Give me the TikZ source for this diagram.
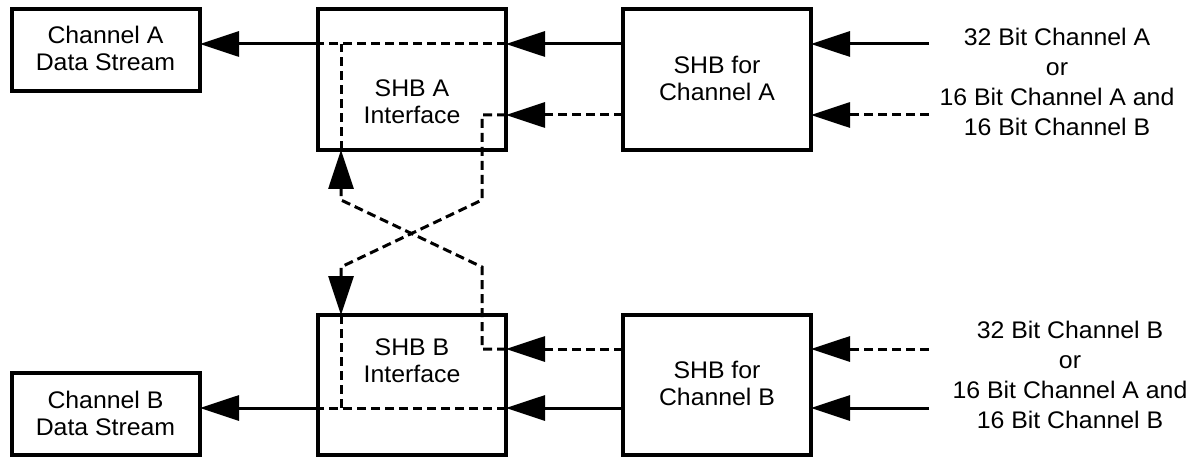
\documentclass[tikz,border=0pt]{standalone}
\usepackage{fontspec}
\setmainfont{Liberation Sans}[FakeStretch=1.035]
\usetikzlibrary{arrows.meta,calc}
\begin{document}
\begin{tikzpicture}[x=1pt,y=-1pt,
  box/.style={draw, line width=3.2pt, inner sep=0pt, outer sep=0pt},
  lbl/.style={align=center, inner sep=0pt, font=\fontsize{24}{27}\selectfont},
  side/.style={align=center, inner sep=0pt, font=\fontsize{24}{30}\selectfont},
  conn/.style={line width=3pt},
  dsh/.style={dash pattern=on 9pt off 5pt},
  arr/.style={-{Triangle[length=39pt,width=25pt]}},
]
\useasboundingbox (0,0) rectangle (1201,457);

% boxes
\node[box, minimum width=188pt, minimum height=82pt]  (chA)  at (106,50)    {};
\node[box, minimum width=188pt, minimum height=141pt] (ifA)  at (412,79.5)  {};
\node[box, minimum width=188pt, minimum height=141pt] (shbA) at (717,79.5)  {};
\node[box, minimum width=188pt, minimum height=82pt]  (chB)  at (106,414)   {};
\node[box, minimum width=188pt, minimum height=140pt] (ifB)  at (412,385)   {};
\node[box, minimum width=188pt, minimum height=140pt] (shbB) at (717,385)   {};

% texts
\node[lbl] (chAt)  at (105.5,48.5) {Channel A\\Data Stream};
\node[lbl] (ifAt)  at (412,102)    {SHB A\\Interface};
\node[lbl] (shbAt) at (717,78.5)   {SHB for\\Channel A};
\node[lbl] (chBt)  at (105.5,413)  {Channel B\\Data Stream};
\node[lbl] (ifBt)  at (412,361)    {SHB B\\Interface};
\node[lbl] (shbBt) at (717,383)    {SHB for\\Channel B};
\node[side] (txtA) at (1057,81.7) {32 Bit Channel A\\or\\16 Bit Channel A and\\16 Bit Channel B};
\node[side] (txtB) at (1070,375)  {32 Bit Channel B\\or\\16 Bit Channel A and\\16 Bit Channel B};

% input points and junctions
\coordinate (inA1) at (929,44);
\coordinate (inA2) at (929,115);
\coordinate (inB1) at (929,349);
\coordinate (inB2) at (929,408);
\coordinate (xL) at (341,0);
\coordinate (xR) at (482,0);
\coordinate (pA1) at (482,200);
\coordinate (pA2) at (341,267);
\coordinate (pB1) at (482,267);
\coordinate (pB2) at (341,200);

% channel A solid path
\draw[conn, arr] (inA1) -- (shbA.east |- inA1);
\draw[conn, arr] (shbA.west |- inA1) -- (ifA.east |- inA1);
\draw[conn, dsh] (ifA.east |- inA1) -- (ifA.west |- inA1);
\draw[conn, arr] (ifA.west |- inA1) -- (chA.east |- inA1);
\draw[conn, dsh] (xL |- ifA.south) -- (xL |- inA1);

% channel A dashed path
\draw[conn, dsh, arr] (inA2) -- (shbA.east |- inA2);
\draw[conn, dsh, arr] (shbA.west |- inA2) -- (ifA.east |- inA2);
\draw[conn, dsh, arr] (ifA.east |- inA2) -- (xR |- inA2) -- (pA1) -- (pA2) -- (xL |- ifB.north);

% channel B dashed path
\draw[conn, dsh, arr] (inB1) -- (shbB.east |- inB1);
\draw[conn, dsh, arr] (shbB.west |- inB1) -- (ifB.east |- inB1);
\draw[conn, dsh, arr] (ifB.east |- inB1) -- (xR |- inB1) -- (pB1) -- (pB2) -- (xL |- ifA.south);

% channel B solid path
\draw[conn, arr] (inB2) -- (shbB.east |- inB2);
\draw[conn, arr] (shbB.west |- inB2) -- (ifB.east |- inB2);
\draw[conn, dsh] (ifB.east |- inB2) -- (ifB.west |- inB2);
\draw[conn, arr] (ifB.west |- inB2) -- (chB.east |- inB2);
\draw[conn, dsh] (xL |- ifB.north) -- (xL |- inB2);
\end{tikzpicture}
\end{document}
